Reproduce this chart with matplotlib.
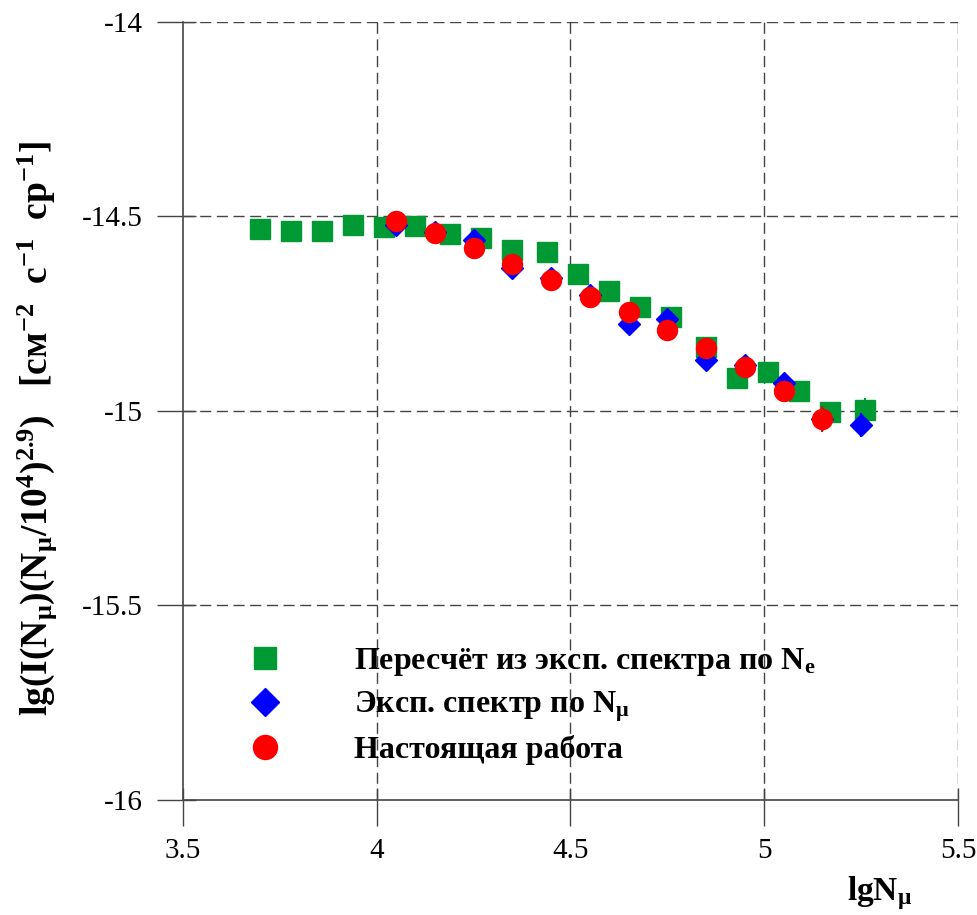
import matplotlib.pyplot as plt
import numpy as np

# recalculated from Ne spectrum (green squares)
green_x = [3.70, 3.78, 3.86, 3.94, 4.02, 4.10, 4.19, 4.27, 4.35, 4.44,
           4.52, 4.60, 4.68, 4.76, 4.85, 4.93, 5.01, 5.09, 5.17, 5.26]
green_y = [-14.533, -14.537, -14.537, -14.521, -14.526, -14.524, -14.545, -14.556, -14.586, -14.591,
           -14.648, -14.691, -14.732, -14.759, -14.835, -14.915, -14.899, -14.949, -15.002, -14.997]
green_err = [0, 0, 0, 0, 0, 0, 0, 0, 0, 0,
             0, 0, 0, 0, 0, 0, 0, 0, 0.026, 0.03]

# exp. spectrum by Nmu (blue diamonds)
blue_x = [4.05, 4.15, 4.25, 4.35, 4.45, 4.55, 4.65, 4.75, 4.85, 4.95, 5.05, 5.15, 5.25]
blue_y = [-14.522, -14.539, -14.560, -14.633, -14.657, -14.702, -14.777, -14.764,
          -14.868, -14.882, -14.927, -15.02, -15.036]
blue_err = [0, 0, 0, 0, 0, 0, 0, 0, 0, 0, 0, 0, 0.032]

# this work (red circles)
red_x = [4.05, 4.15, 4.25, 4.35, 4.45, 4.55, 4.65, 4.75, 4.85, 4.95, 5.05, 5.15]
red_y = [-14.511, -14.542, -14.580, -14.622, -14.663, -14.706, -14.746, -14.792,
         -14.837, -14.888, -14.949, -15.021]
red_err = [0, 0, 0, 0, 0, 0, 0, 0, 0, 0, 0, 0.034]

labels = ['Пересчёт из эксп. спектра по N$_\\mathrm{e}$',
          'Эксп. спектр по N$_\\mathrm{μ}$',
          'Настоящая работа']

xticks = [3.5, 4, 4.5, 5, 5.5]
xticklabels = ['3.5', '4', '4.5', '5', '5.5']
yticks = [-16, -15.5, -15, -14.5, -14]
yticklabels = ['-16', '-15.5', '-15', '-14.5', '-14']

plt.rcParams['font.family'] = ['Liberation Serif', 'DejaVu Serif']
plt.rcParams['mathtext.fontset'] = 'custom'
plt.rcParams['mathtext.rm'] = 'Liberation Serif:bold'
plt.rcParams['mathtext.it'] = 'Liberation Serif:bold'
plt.rcParams['mathtext.bf'] = 'Liberation Serif:bold'

fig = plt.figure(figsize=(9.78, 9.15), dpi=100)
ax = fig.add_axes([0.187, 0.1257, 0.7926, 0.8503])

g = ax.errorbar(green_x, green_y, yerr=green_err, fmt='s', ms=13.7, color='#009933',
                ecolor='#009933', elinewidth=1.5, capsize=0, zorder=3)
b = ax.errorbar(blue_x, blue_y, yerr=blue_err, fmt='D', ms=11.5, color='#0000ff',
                ecolor='#0000ff', elinewidth=1.5, capsize=0, zorder=4)
r = ax.errorbar(red_x, red_y, yerr=red_err, fmt='o', ms=14.4, color='#ff0000',
                ecolor='#ff0000', elinewidth=1.5, capsize=0, zorder=5)

ax.set_xlim(3.5, 5.5)
ax.set_ylim(-16, -14)
ax.set_xticks(xticks)
ax.set_xticklabels(xticklabels)
ax.set_yticks(yticks)
ax.set_yticklabels(yticklabels)

# dashed grid
for gx in xticks[1:]:
    ax.axvline(gx, color='#444444', lw=1.0, ls=(0, (8, 4)), zorder=1)
for gy in yticks[1:]:
    ax.axhline(gy, color='#444444', lw=1.0, ls=(0, (8, 4)), zorder=1)

for s in ['top', 'right']:
    ax.spines[s].set_visible(False)
for s in ['left', 'bottom']:
    ax.spines[s].set_color('#444444')
    ax.spines[s].set_linewidth(1.2)

# ticks cross the axis: long part outside, short part inside
ax.xaxis.remove_overlapping_locs = False
ax.yaxis.remove_overlapping_locs = False
ax.set_xticks(xticks, minor=True)
ax.set_yticks(yticks, minor=True)
ax.tick_params(which='major', direction='out', length=18.5, width=1.0, color='#444444',
               labelsize=21)
ax.tick_params(which='minor', direction='in', length=9, width=1.0, color='#444444')
ax.tick_params(axis='x', which='major', pad=9)
ax.tick_params(axis='y', which='major', pad=10.5)

ax.legend(handles=[g[0], b[0], r[0]], labels=labels,
          loc='lower left', bbox_to_anchor=(0.048, 0.028), frameon=False,
          prop={'size': 23, 'weight': 'bold'}, handletextpad=1.8, markerscale=1.2,
          labelspacing=0.35, borderaxespad=0)

fig.text(880 / 978, 1 - 893 / 915, 'lgN$_\\mathrm{μ}$', fontsize=24, fontweight='bold',
         ha='center', va='center')
fig.text(37 / 978, 1 - 428 / 915,
         'lg(I(N$_\\mathrm{μ}$)(N$_\\mathrm{μ}$/10$^\\mathrm{4}$)$^\\mathrm{2.9}$)   '
         '[см$^\\mathrm{-2}$  с$^\\mathrm{-1}$  ср$^\\mathrm{-1}$]',
         fontsize=27, fontweight='bold', rotation=90, ha='center', va='center')

plt.savefig('out.png', dpi=100, facecolor='white')
